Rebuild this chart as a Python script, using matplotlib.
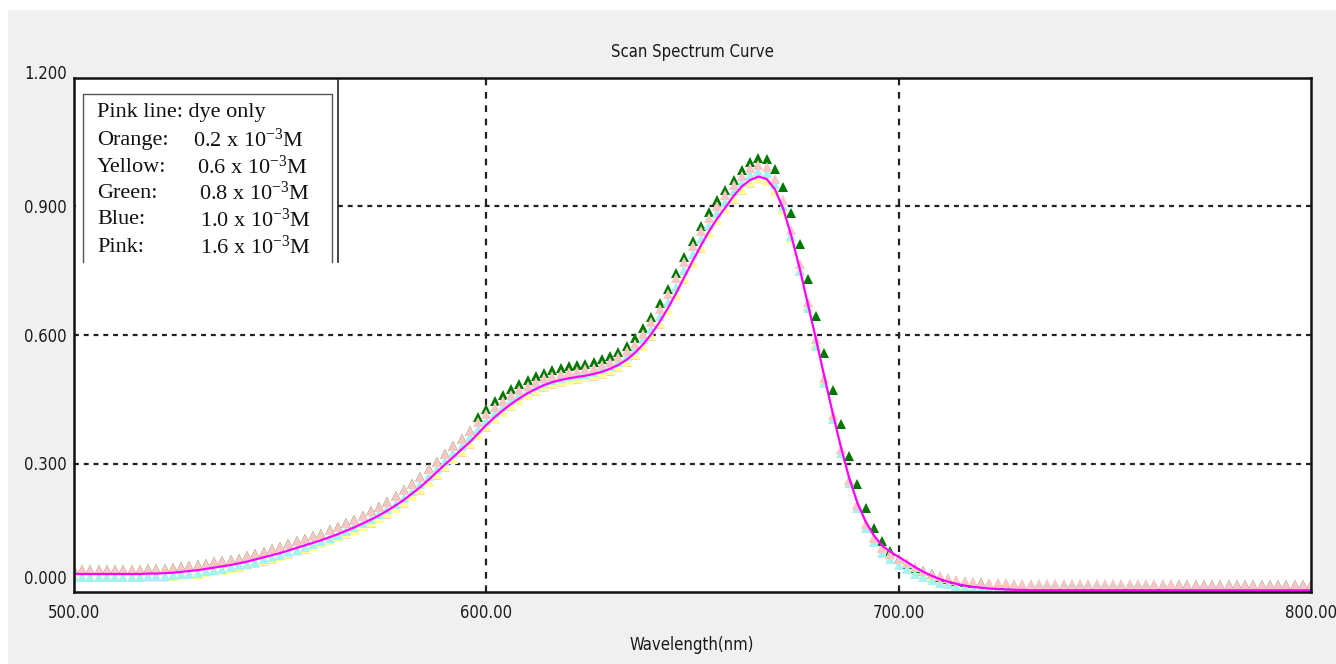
import matplotlib
matplotlib.use("Agg")
import matplotlib.pyplot as plt
from matplotlib.patches import Rectangle
from matplotlib.lines import Line2D
import matplotlib.transforms as mtransforms
import numpy as np

plt.rcParams['mathtext.fontset'] = 'custom'
plt.rcParams['mathtext.rm'] = 'Liberation Serif'
plt.rcParams['mathtext.it'] = 'Liberation Serif:italic'

W, H = 1336, 664
NARROW = ['DejaVu Sans']
SERIF = ['Liberation Serif', 'DejaVu Serif']

# wavelength grid of the scan, every 2 nm
wavelength = np.arange(500, 802, 2)

# dye only (magenta line)
dye_only = [
    .042, .042, .042, .042, .042, .042, .042, .042, .042, .043,   # 500-518
    .043, .044, .045, .047, .049, .051, .054, .057, .060, .063,   # 520-538
    .067, .071, .076, .081, .086, .091, .097, .103, .109, .115,   # 540-558
    .121, .128, .135, .143, .151, .160, .169, .179, .190, .202,   # 560-578
    .215, .230, .245, .262, .280, .298, .315, .333, .350, .370,   # 580-598
    .390, .408, .424, .439, .452, .464, .474, .483, .490, .495,   # 600-618
    .499, .502, .505, .509, .514, .521, .530, .542, .558, .578,   # 620-638
    .602, .630, .662, .697, .735, .772, .808, .842, .872, .898,   # 640-658
    .925, .947, .962, .970, .964, .940, .895, .830, .755, .672,   # 660-678
    .588, .502, .418, .338, .266, .208, .164, .132, .108, .094,   # 680-698
    .082, .070, .058, .047, .038, .030, .024, .019, .015, .012,   # 700-718
    .010, .008, .007, .006, .005, .005, .004, .004, .004, .004,   # 720-738
    .004, .004, .004, .004, .004, .004, .004, .004, .004, .004,   # 740-758
    .004, .004, .004, .004, .004, .004, .004, .004, .004, .004,   # 760-778
    .004, .004, .004, .004, .004, .004, .004, .004, .004, .004,   # 780-798
    .004]

# 0.2 x 10^-3 M (orange)
orange = [
    .034, .034, .034, .034, .034, .034, .034, .034, .034, .035,
    .035, .036, .037, .039, .041, .043, .046, .049, .052, .055,
    .059, .063, .068, .073, .078, .083, .089, .095, .101, .107,
    .114, .121, .128, .136, .144, .153, .162, .172, .183, .195,
    .208, .223, .239, .256, .274, .292, .310, .328, .346, .366,
    .386, .404, .420, .435, .448, .460, .470, .479, .486, .491,
    .495, .498, .501, .505, .510, .517, .526, .538, .554, .574,
    .598, .626, .658, .693, .731, .768, .804, .838, .868, .894,
    .917, .939, .955, .964, .962, .939, .894, .828, .752, .668,
    .582, .496, .412, .333, .262, .204, .160, .128, .104, .088,
    .076, .064, .053, .043, .034, .027, .021, .017, .013, .010,
    .008, .007, .006, .005, .005, .004, .004, .004, .004, .004,
    .004, .004, .004, .004, .004, .004, .004, .004, .004, .004,
    .004, .004, .004, .004, .004, .004, .004, .004, .004, .004,
    .004, .004, .004, .004, .004, .004, .004, .004, .004, .004,
    .004]

# 0.6 x 10^-3 M (yellow)
yellow = [
    .034, .034, .034, .034, .034, .034, .034, .034, .034, .035,
    .035, .036, .037, .039, .041, .043, .046, .049, .052, .055,
    .060, .064, .069, .074, .079, .084, .090, .096, .102, .108,
    .115, .122, .129, .137, .145, .154, .163, .173, .184, .196,
    .209, .224, .240, .257, .275, .293, .311, .329, .347, .367,
    .387, .405, .421, .436, .449, .461, .471, .480, .487, .492,
    .496, .499, .502, .506, .511, .518, .527, .539, .555, .575,
    .599, .627, .659, .694, .732, .769, .805, .839, .869, .895,
    .920, .942, .957, .965, .960, .937, .892, .826, .750, .666,
    .580, .494, .410, .331, .260, .202, .158, .126, .102, .086,
    .074, .062, .051, .041, .033, .026, .020, .016, .013, .010,
    .008, .007, .006, .005, .005, .004, .004, .004, .004, .004,
    .004, .004, .004, .004, .004, .004, .004, .004, .004, .004,
    .004, .004, .004, .004, .004, .004, .004, .004, .004, .004,
    .004, .004, .004, .004, .004, .004, .004, .004, .004, .004,
    .004]

# 0.8 x 10^-3 M (green)
green = [
    .052, .052, .052, .052, .052, .052, .052, .052, .052, .053,
    .053, .054, .056, .058, .060, .063, .066, .069, .072, .075,
    .078, .083, .088, .094, .100, .106, .112, .118, .124, .130,
    .136, .144, .152, .160, .169, .178, .188, .199, .211, .224,
    .238, .253, .269, .286, .304, .322, .340, .358, .377, .408,
    .428, .445, .460, .473, .485, .495, .504, .512, .518, .523,
    .527, .530, .533, .537, .543, .551, .561, .575, .593, .616,
    .643, .674, .708, .745, .783, .820, .855, .887, .915, .939,
    .963, .985, 1.003, 1.013, 1.010, .988, .945, .885, .812, .730,
    .645, .558, .472, .392, .318, .252, .196, .150, .118, .095,
    .078, .066, .056, .048, .041, .035, .030, .026, .023, .021,
    .020, .019, .018, .018, .017, .017, .017, .016, .016, .016,
    .016, .016, .016, .016, .016, .016, .016, .016, .016, .016,
    .016, .016, .016, .016, .016, .016, .016, .016, .016, .016,
    .016, .016, .016, .016, .016, .016, .016, .016, .016, .016,
    .016]

# 1.0 x 10^-3 M (blue)
blue = [
    .036, .036, .036, .036, .036, .036, .036, .036, .036, .037,
    .037, .038, .039, .041, .043, .045, .048, .051, .054, .058,
    .062, .066, .071, .076, .081, .087, .093, .099, .105, .112,
    .119, .126, .134, .142, .151, .160, .170, .181, .193, .206,
    .220, .236, .252, .270, .288, .306, .324, .342, .361, .381,
    .400, .418, .434, .448, .461, .472, .481, .489, .495, .500,
    .504, .507, .510, .514, .520, .528, .538, .551, .568, .590,
    .615, .644, .677, .713, .751, .788, .823, .856, .885, .910,
    .936, .958, .974, .982, .978, .952, .902, .832, .750, .662,
    .575, .488, .404, .325, .255, .196, .150, .116, .092, .076,
    .064, .053, .043, .035, .028, .022, .018, .015, .012, .010,
    .009, .008, .007, .007, .006, .006, .006, .006, .006, .006,
    .006, .006, .006, .006, .006, .006, .006, .006, .006, .006,
    .006, .006, .006, .006, .006, .006, .006, .006, .006, .006,
    .006, .006, .006, .006, .006, .006, .006, .006, .006, .006,
    .006]

# 1.6 x 10^-3 M (pink)
pink = [
    .052, .052, .052, .052, .052, .052, .052, .052, .052, .053,
    .053, .054, .056, .058, .060, .063, .066, .069, .072, .075,
    .078, .083, .088, .094, .100, .106, .112, .118, .124, .130,
    .136, .144, .152, .160, .169, .178, .188, .199, .211, .224,
    .238, .253, .269, .286, .304, .322, .340, .358, .377, .396,
    .415, .432, .447, .460, .472, .482, .491, .499, .505, .510,
    .514, .517, .520, .524, .530, .538, .548, .562, .580, .603,
    .630, .661, .695, .732, .770, .807, .842, .874, .902, .926,
    .950, .972, .990, .998, .992, .965, .915, .845, .765, .678,
    .590, .500, .414, .334, .262, .204, .158, .126, .103, .088,
    .078, .068, .058, .050, .043, .037, .032, .028, .025, .023,
    .022, .021, .020, .020, .019, .019, .019, .018, .018, .018,
    .018, .018, .018, .018, .018, .018, .018, .018, .018, .018,
    .018, .018, .018, .018, .017, .017, .017, .017, .017, .017,
    .017, .017, .017, .017, .017, .017, .017, .017, .017, .017,
    .017]

x_ticks = [500, 600, 700, 800]
x_tick_labels = ['500.00', '600.00', '700.00', '800.00']
y_ticks = [0.0, 0.3, 0.6, 0.9, 1.2]
y_tick_labels = ['0.000', '0.300', '0.600', '0.900', '1.200']

legend_labels = ['Pink line: dye only', 'Orange:', 'Yellow:', 'Green:', 'Blue:', 'Pink:']
legend_values = ['', '0.2', '0.6', '0.8', '1.0', '1.6']


def fx(x):
    return x / W


def fy(y):
    return 1 - y / H


fig = plt.figure(figsize=(W / 100, H / 100), dpi=100, facecolor='white')
# grey window background
fig.patches.append(Rectangle((fx(8), 0), 1 - fx(8), fy(10), transform=fig.transFigure,
                             facecolor='#f0f0f0', edgecolor='none', zorder=-10))

ax = fig.add_axes([fx(74), fy(592), fx(1311) - fx(74), fy(78) - fy(592)])
ax.set_facecolor('white')

ms = 6.5
for vals, col in [(orange, '#ffd9a8'), (yellow, '#ffff99'), (green, '#007800'),
                  (blue, '#a6f2f2'), (pink, '#f9c6c6')]:
    ax.plot(wavelength, vals, linestyle='none', marker='^', markersize=ms,
            markerfacecolor=col, markeredgewidth=0, zorder=3)
ax.plot(wavelength, dye_only, color='#ff00ff', lw=1.6, zorder=5)

ax.set_xlim(500, 800)
ax.set_ylim(0, 1.2)

for gx in [600, 700]:
    ax.axvline(gx, color='#222222', lw=1.6, linestyle=(0, (3, 3)), zorder=2)
for gy in [0.3, 0.6, 0.9]:
    ax.axhline(gy, color='#222222', lw=1.6, linestyle=(0, (2.2, 2.2)), zorder=2)

ax.set_xticks(x_ticks)
ax.set_xticklabels(x_tick_labels, family=NARROW, stretch='condensed', fontsize=12)
ax.set_yticks(y_ticks)
ax.set_yticklabels(y_tick_labels, family=NARROW, stretch='condensed', fontsize=12)
ax.tick_params(axis='y', length=0, pad=5, colors='#1a1a1a')
ax.tick_params(axis='x', length=0, pad=9, colors='#1a1a1a')

# the software lifts the end labels a little
ylabs = ax.get_yticklabels()
ylabs[0].set_transform(ylabs[0].get_transform() +
                       mtransforms.ScaledTranslation(0, 15 / 100, fig.dpi_scale_trans))
ylabs[-1].set_transform(ylabs[-1].get_transform() +
                        mtransforms.ScaledTranslation(0, 6 / 100, fig.dpi_scale_trans))

for s in ax.spines.values():
    s.set_linewidth(1.8)
    s.set_color('#111111')
    s.set_zorder(6)

fig.text(fx(692), fy(52), 'Scan Spectrum Curve', ha='center', va='center',
         family=NARROW, stretch='condensed', fontsize=12, color='#1a1a1a')
fig.text(fx(692), fy(645), 'Wavelength(nm)', ha='center', va='center',
         family=NARROW, stretch='condensed', fontsize=12, color='#1a1a1a')

# pasted legend box
fig.patches.append(Rectangle((fx(76), fy(262)), fx(338) - fx(76), fy(80) - fy(262),
                             transform=fig.transFigure, facecolor='white',
                             edgecolor='none', zorder=7))
fig.lines.append(Line2D([fx(338), fx(338)], [fy(80), fy(262)], transform=fig.transFigure,
                        color='#222222', lw=1.2, zorder=8))
fig.lines.append(Line2D([fx(83), fx(83), fx(332), fx(332)], [fy(262), fy(94), fy(94), fy(262)],
                        transform=fig.transFigure, color='#555555', lw=1.0, zorder=8))

row_y = [112, 140, 167, 193, 220, 247]
val_x = [0, 193, 197, 199, 200, 200]
for lab, val, ry, vx in zip(legend_labels, legend_values, row_y, val_x):
    fig.text(fx(97), fy(ry), lab, ha='left', va='center', family=SERIF,
             fontsize=16, color='#111111', zorder=9)
    if val:
        fig.text(fx(vx), fy(ry), val + r' x 10$^{\mathrm{-3}}$M', ha='left', va='center',
                 family=SERIF, fontsize=16, color='#111111', zorder=9)

fig.savefig('out.png', dpi=100)
